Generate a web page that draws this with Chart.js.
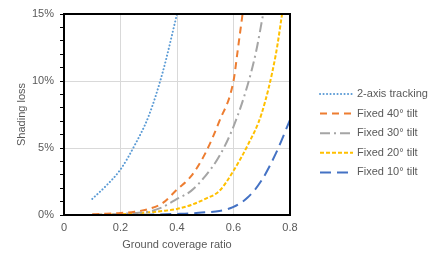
<!DOCTYPE html>
<html lang="en">
<head>
<meta charset="UTF-8">
<title>Shading loss vs ground coverage ratio</title>
<script src="https://cdn.jsdelivr.net/npm/chart.js"></script>
<style>
  html, body { margin: 0; padding: 0; background: #fff; }
  #wrap { width: 440px; height: 267px; }
</style>
</head>
<body>
<div id="wrap"><canvas id="lossChart" width="440" height="267"></canvas></div>
<script>
// values (x = ground coverage ratio, y = shading loss in %)
const seriesNames = ['2-axis tracking', 'Fixed 40° tilt', 'Fixed 30° tilt', 'Fixed 20° tilt', 'Fixed 10° tilt'];

const trackingX = [0.1, 0.15, 0.2, 0.25, 0.3, 0.35, 0.4];
const trackingY = [1.2, 2.2, 3.4, 5.2, 7.4, 10.7, 15];

const tilt40X = [0.1, 0.15, 0.2, 0.25, 0.3, 0.35, 0.4, 0.45, 0.5, 0.55, 0.6, 0.615, 0.632];
const tilt40Y = [0.05, 0.1, 0.15, 0.25, 0.45, 0.9, 1.9, 2.9, 4.6, 7.0, 10.0, 12.3, 15];

const tilt30X = [0.1, 0.2, 0.25, 0.3, 0.35, 0.4, 0.45, 0.5, 0.55, 0.6, 0.65, 0.68, 0.705];
const tilt30Y = [0.02, 0.08, 0.15, 0.25, 0.6, 1.2, 1.8, 2.9, 4.4, 6.6, 9.7, 12.2, 15];

const tilt20X = [0.1, 0.2, 0.25, 0.3, 0.35, 0.4, 0.45, 0.5, 0.55, 0.6, 0.65, 0.7, 0.75, 0.772];
const tilt20Y = [0.0, 0.05, 0.1, 0.2, 0.3, 0.45, 0.75, 1.2, 1.8, 3.3, 5.2, 7.6, 12.0, 15];

const tilt10X = [0.1, 0.2, 0.3, 0.4, 0.45, 0.5, 0.55, 0.6, 0.65, 0.7, 0.75, 0.8];
const tilt10Y = [0.0, 0.0, 0.02, 0.08, 0.12, 0.2, 0.3, 0.6, 1.3, 2.6, 4.6, 7.1];

const xTicks = [0, 0.2, 0.4, 0.6, 0.8];
const yTickLabels = [0, 5, 10, 15];

const textColor = '#595959';
const fontFamily = '"Liberation Sans", Arial, sans-serif';

function pairs(xs, ys) {
    return xs.map((x, i) => ({ x: x, y: ys[i] }));
}

const styles = [
    { color: '#5B9BD5', dash: [0.1, 3.4], cap: 'round' },
    { color: '#ED7D31', dash: [7, 5], cap: 'butt' },
    { color: '#A5A5A5', dash: [10, 4, 2, 4], cap: 'butt' },
    { color: '#FFC000', dash: [4, 2], cap: 'butt' },
    { color: '#4472C4', dash: [11, 6], cap: 'butt' }
];

const seriesData = [
    pairs(trackingX, trackingY),
    pairs(tilt40X, tilt40Y),
    pairs(tilt30X, tilt30Y),
    pairs(tilt20X, tilt20Y),
    pairs(tilt10X, tilt10Y)
];

const datasets = seriesNames.map((name, i) => ({
    label: name,
    data: seriesData[i],
    borderColor: styles[i].color,
    backgroundColor: styles[i].color,
    borderDash: styles[i].dash,
    borderCapStyle: styles[i].cap,
    borderWidth: 2,
    pointRadius: 0,
    cubicInterpolationMode: 'monotone',
    fill: false
}));

// plot frame + legend drawn by hand, like the Excel original
const framePlugin = {
    id: 'frameAndLegend',
    afterDatasetsDraw(chart) {
        const { ctx, chartArea: a } = chart;
        ctx.save();
        ctx.strokeStyle = '#000';
        ctx.lineWidth = 2;
        ctx.setLineDash([]);
        ctx.strokeRect(a.left, a.top, a.right - a.left, a.bottom - a.top);
        ctx.restore();
    },
    afterDraw(chart) {
        const { ctx } = chart;
        ctx.save();
        ctx.font = '11px ' + fontFamily;
        ctx.textBaseline = 'middle';
        ctx.fillStyle = textColor;
        chart.data.datasets.forEach((ds, i) => {
            const y = 94 + i * 19.6;
            ctx.beginPath();
            ctx.strokeStyle = ds.borderColor;
            ctx.lineWidth = 2;
            ctx.lineCap = ds.borderCapStyle;
            ctx.setLineDash(ds.borderDash);
            ctx.moveTo(320, y);
            ctx.lineTo(353, y);
            ctx.stroke();
            ctx.fillText(ds.label, 357, y);
        });
        ctx.restore();
    }
};

new Chart(document.getElementById('lossChart'), {
    type: 'line',
    data: { datasets: datasets },
    options: {
        responsive: false,
        animation: false,
        layout: { padding: { left: 0, right: 150, top: 14, bottom: 0 } },
        plugins: {
            legend: { display: false },
            tooltip: { enabled: false }
        },
        scales: {
            x: {
                type: 'linear',
                min: 0,
                max: 0.8,
                afterBuildTicks: (scale) => { scale.ticks = xTicks.map(v => ({ value: v })); },
                ticks: {
                    color: textColor,
                    font: { family: fontFamily, size: 11 },
                    padding: 6,
                    maxRotation: 0,
                    callback: (v) => String(v)
                },
                grid: {
                    color: '#d9d9d9',
                    lineWidth: 1,
                    drawTicks: false
                },
                border: { display: false },
                title: {
                    display: true,
                    text: 'Ground coverage ratio',
                    color: textColor,
                    font: { family: fontFamily, size: 11 },
                    padding: { top: 0, bottom: 15 }
                },
                afterFit: (scale) => { scale.height = 52; }
            },
            y: {
                min: 0,
                max: 15,
                ticks: {
                    stepSize: 1,
                    autoSkip: false,
                    color: textColor,
                    font: { family: fontFamily, size: 11 },
                    padding: 6,
                    callback: (v) => (yTickLabels.includes(v) ? v + '%' : '')
                },
                grid: {
                    color: (c) => (c.tick && c.tick.value % 5 === 0 ? '#d9d9d9' : 'rgba(0,0,0,0)'),
                    tickColor: '#000',
                    tickLength: 4,
                    lineWidth: 1
                },
                border: { display: false },
                title: {
                    display: true,
                    text: 'Shading loss',
                    color: textColor,
                    font: { family: fontFamily, size: 11 },
                    padding: { top: 15, bottom: 0 }
                },
                afterFit: (scale) => { scale.width = 64; }
            }
        }
    },
    plugins: [framePlugin]
});
</script>
</body>
</html>
